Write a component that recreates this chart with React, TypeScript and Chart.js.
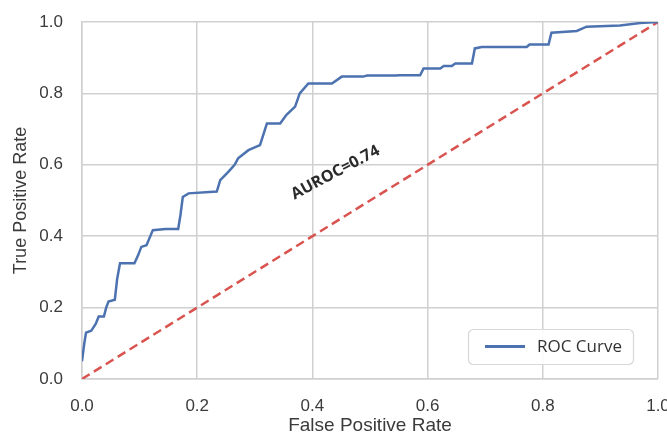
import React, { useEffect, useRef } from "react";
import { Chart, registerables } from "chart.js";

Chart.register(...registerables);

const fpr = [
  0, 0.004, 0.007, 0.016, 0.024, 0.029, 0.038, 0.042, 0.046, 0.057, 0.061, 0.066, 0.091, 0.097, 0.103,
  0.112, 0.123, 0.145, 0.167, 0.171, 0.175, 0.185, 0.234, 0.24, 0.254, 0.265, 0.271, 0.289, 0.309, 0.316,
  0.321, 0.344, 0.355, 0.37, 0.378, 0.393, 0.434, 0.451, 0.488, 0.495, 0.546, 0.55, 0.587, 0.593, 0.622,
  0.628, 0.642, 0.648, 0.677, 0.682, 0.694, 0.772, 0.777, 0.81, 0.815, 0.859, 0.876, 0.934, 0.969, 1,
];
const tpr = [
  0.05, 0.1, 0.13, 0.135, 0.155, 0.175, 0.175, 0.2, 0.217, 0.222, 0.28, 0.324, 0.324, 0.345, 0.37,
  0.375, 0.417, 0.42, 0.42, 0.46, 0.51, 0.52, 0.525, 0.557, 0.58, 0.6, 0.618, 0.641, 0.655, 0.69,
  0.716, 0.716, 0.74, 0.763, 0.8, 0.828, 0.828, 0.847, 0.847, 0.85, 0.85, 0.851, 0.851, 0.87, 0.87,
  0.877, 0.877, 0.884, 0.884, 0.926, 0.93, 0.93, 0.937, 0.937, 0.97, 0.975, 0.987, 0.99, 0.997, 1,
];
const chanceX = [0, 1];
const chanceY = [0, 1];
const tickValues = [0, 0.2, 0.4, 0.6, 0.8, 1.0];
const curveLabel = "ROC Curve";
const aurocText = "AUROC=0.74";
const aurocPos = { x: 0.44, y: 0.578 };

const BLUE = "#4c72b0";
const RED = "#d9534f";
const GRID = "#d0d0d0";
const TEXT = "#3b3b3b";

export default function App() {
  const ref = useRef<HTMLCanvasElement | null>(null);

  useEffect(() => {
    if (!ref.current) return;

    const annotationPlugin = {
      id: "aurocText",
      afterDatasetsDraw(chart: any) {
        const { ctx, scales } = chart;
        const px = scales.x.getPixelForValue(aurocPos.x);
        const py = scales.y.getPixelForValue(aurocPos.y);
        ctx.save();
        ctx.translate(px, py);
        ctx.rotate((-28 * Math.PI) / 180);
        ctx.font = "bold 16px 'Open Sans'";
        ctx.fillStyle = "#2a2a2a";
        ctx.textAlign = "center";
        ctx.textBaseline = "middle";
        ctx.fillText(aurocText, 0, 0);
        ctx.restore();
      },
    };

    const legendPlugin = {
      id: "boxLegend",
      afterDraw(chart: any) {
        const { ctx, chartArea } = chart;
        const ds = chart.data.datasets[0];
        const w = 165;
        const h = 35;
        const x0 = chartArea.right - 25 - w;
        const y0 = chartArea.bottom - 15 - h;
        ctx.save();
        ctx.fillStyle = "rgba(255,255,255,0.9)";
        ctx.strokeStyle = "#d8d8d8";
        ctx.lineWidth = 1.2;
        ctx.beginPath();
        (ctx as any).roundRect(x0 + 0.5, y0 + 0.5, w, h, 5);
        ctx.fill();
        ctx.stroke();
        ctx.strokeStyle = ds.borderColor;
        ctx.lineWidth = 3;
        ctx.beginPath();
        ctx.moveTo(x0 + 17, y0 + h / 2);
        ctx.lineTo(x0 + 57, y0 + h / 2);
        ctx.stroke();
        ctx.font = "17px 'Open Sans'";
        ctx.fillStyle = "#333";
        ctx.textAlign = "left";
        ctx.textBaseline = "middle";
        ctx.fillText(ds.label, x0 + 69, y0 + h / 2 + 1);
        ctx.restore();
      },
    };

    const axisCommon = (title: string, titleSize: number) => ({
      type: "linear" as const,
      min: 0,
      max: 1,
      afterBuildTicks(scale: any) {
        scale.ticks = tickValues.map((v) => ({ value: v }));
      },
      grid: { color: GRID, lineWidth: 1.5, drawTicks: false },
      border: { display: true, color: GRID, width: 1.5 },
      ticks: {
        color: TEXT,
        font: { family: "'Liberation Sans', Arial", size: 17 },
        callback: (v: any) => Number(v).toFixed(1),
      },
      title: {
        display: true,
        text: title,
        color: TEXT,
        font: { family: "'Liberation Sans', Arial", size: titleSize },
      },
    });

    const xAxis: any = axisCommon("False Positive Rate", 19);
    xAxis.ticks.padding = 17;
    xAxis.ticks.maxRotation = 0;
    xAxis.title.padding = { top: 0, bottom: 0 };
    xAxis.afterFit = (scale: any) => {
      scale.height = 58;
      scale.paddingLeft = 0;
      scale.paddingRight = 0;
    };

    const yAxis: any = axisCommon("True Positive Rate", 18);
    yAxis.ticks.padding = 19;
    yAxis.title.padding = { top: 10, bottom: 0 };
    yAxis.afterFit = (scale: any) => {
      scale.width = 82;
      scale.paddingTop = 0;
      scale.paddingBottom = 0;
    };

    const chart = new Chart(ref.current, {
      type: "line",
      data: {
        datasets: [
          {
            label: curveLabel,
            data: fpr.map((x, i) => ({ x, y: tpr[i] })),
            borderColor: BLUE,
            borderWidth: 2.5,
            pointRadius: 0,
            fill: false,
            tension: 0,
          },
          {
            label: "chance",
            data: chanceX.map((x, i) => ({ x, y: chanceY[i] })),
            borderColor: RED,
            borderWidth: 2.5,
            borderDash: [9, 5],
            pointRadius: 0,
            fill: false,
          },
        ],
      },
      options: {
        responsive: false,
        animation: false,
        layout: { padding: { top: 22, right: 9, left: 0, bottom: 0 } },
        plugins: {
          legend: { display: false },
          tooltip: { enabled: false },
        },
        scales: { x: xAxis, y: yAxis },
      },
      plugins: [annotationPlugin, legendPlugin],
    });

    return () => chart.destroy();
  }, []);

  return (
    <div style={{ position: "absolute", left: 0, top: 0, width: 667, height: 437, background: "#fff" }}>
      <canvas ref={ref} width={667} height={437} style={{ display: "block" }} />
    </div>
  );
}
